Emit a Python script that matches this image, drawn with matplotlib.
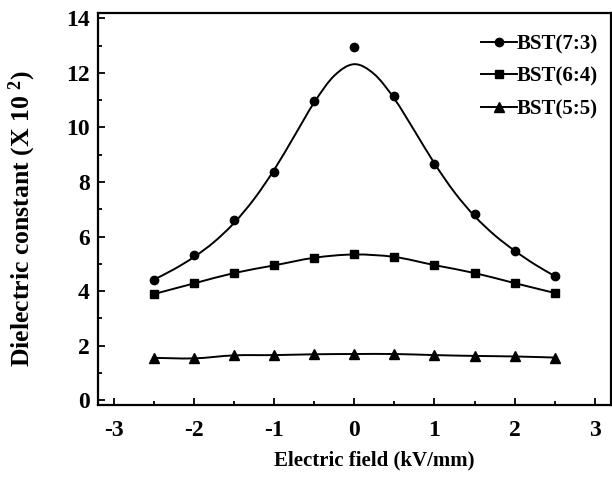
import matplotlib
matplotlib.use("Agg")
import matplotlib.pyplot as plt
from matplotlib.path import Path
from matplotlib.patches import PathPatch
from matplotlib.lines import Line2D

plt.rcParams['font.family'] = ['Liberation Serif', 'DejaVu Serif']
plt.rcParams['font.weight'] = 'bold'
plt.rcParams['mathtext.fontset'] = 'custom'
plt.rcParams['mathtext.rm'] = 'Liberation Serif:bold'
plt.rcParams['mathtext.bf'] = 'Liberation Serif:bold'
plt.rcParams['mathtext.default'] = 'bf'
plt.rcParams['axes.unicode_minus'] = False

# measured points
field = [-2.5, -2.0, -1.5, -1.0, -0.5, 0.0, 0.5, 1.0, 1.5, 2.0, 2.5]
bst73 = [4.40, 5.33, 6.60, 8.37, 10.97, 12.95, 11.15, 8.66, 6.83, 5.47, 4.55]
bst64 = [3.89, 4.28, 4.66, 4.94, 5.22, 5.34, 5.25, 4.95, 4.66, 4.29, 3.93]
bst55 = [1.55, 1.53, 1.64, 1.65, 1.68, 1.69, 1.69, 1.65, 1.62, 1.60, 1.56]

# fitted curve for BST(7:3)
fit_field = [-2.5, -2.25, -2.0, -1.75, -1.5, -1.25, -1.0, -0.75, -0.5, -0.25, 0.0,
             0.25, 0.5, 0.75, 1.0, 1.25, 1.5, 1.75, 2.0, 2.25, 2.5]
fit73 = [4.42, 4.80, 5.25, 5.80, 6.50, 7.38, 8.45, 9.68, 10.92, 11.90, 12.32,
         11.95, 11.05, 9.88, 8.68, 7.62, 6.75, 6.05, 5.48, 4.98, 4.55]

labels = ['BST(7:3)', 'BST(6:4)', 'BST(5:5)']
markers = ['o', 's', '^']


def smooth_path(xs, ys):
    """Catmull-Rom curve through the given points as a Bezier path."""
    n = len(xs)
    verts = [(xs[0], ys[0])]
    codes = [Path.MOVETO]
    for i in range(n - 1):
        i0 = max(i - 1, 0)
        i3 = min(i + 2, n - 1)
        c1 = (xs[i] + (xs[i + 1] - xs[i0]) / 6.0, ys[i] + (ys[i + 1] - ys[i0]) / 6.0)
        c2 = (xs[i + 1] - (xs[i3] - xs[i]) / 6.0, ys[i + 1] - (ys[i3] - ys[i]) / 6.0)
        verts += [c1, c2, (xs[i + 1], ys[i + 1])]
        codes += [Path.CURVE4] * 3
    return Path(verts, codes)


fig = plt.figure(figsize=(6.12, 4.79), dpi=100)
ax = fig.add_axes([0.160, 0.1545, 0.838, 0.8185])

curves = [(fit_field, fit73), (field, bst64), (field, bst55)]
for (cx, cy) in curves:
    ax.add_patch(PathPatch(smooth_path(cx, cy), facecolor='none',
                           edgecolor='black', lw=1.4))

msizes = [6, 5.5, 6.5]
for ys, m, ms in zip([bst73, bst64, bst55], markers, msizes):
    ax.plot(field, ys, linestyle='none', marker=m, color='black', markersize=ms)

handles = [Line2D([], [], color='black', lw=1.4, marker=m, markersize=ms)
           for m, ms in zip(markers, msizes)]
leg = ax.legend(handles, labels, loc='upper right', frameon=False,
                fontsize=15, handlelength=1.75, handletextpad=0.0,
                labelspacing=0.6, bbox_to_anchor=(0.992, 0.967),
                borderaxespad=0.0)

ax.set_xlim(-3.2, 3.2)
ax.set_ylim(-0.18, 14.2)
ax.set_xticks([-3, -2, -1, 0, 1, 2, 3])
ax.set_xticks([-2.5, -1.5, -0.5, 0.5, 1.5, 2.5], minor=True)
ax.set_yticks([0, 2, 4, 6, 8, 10, 12, 14])
ax.set_yticks([1, 3, 5, 7, 9, 11, 13], minor=True)
ax.tick_params(which='both', direction='in', top=False, right=False,
               labelsize=17, width=1.3)
ax.tick_params(which='major', length=5)
ax.tick_params(which='minor', length=3)
ax.tick_params(axis='x', pad=11)
ax.tick_params(axis='y', pad=6)
for s in ax.spines.values():
    s.set_linewidth(1.6)

ax.set_xlabel('Electric field (kV/mm)', fontsize=15, fontweight='bold')
ax.set_ylabel('Dielectric constant (X 10 $^{2}$)', fontsize=18.5,
              fontweight='bold')
ax.xaxis.set_label_coords(0.538, -0.115)
ax.yaxis.set_label_coords(-0.117, 0.474)

fig.savefig('out.png', dpi=100)
